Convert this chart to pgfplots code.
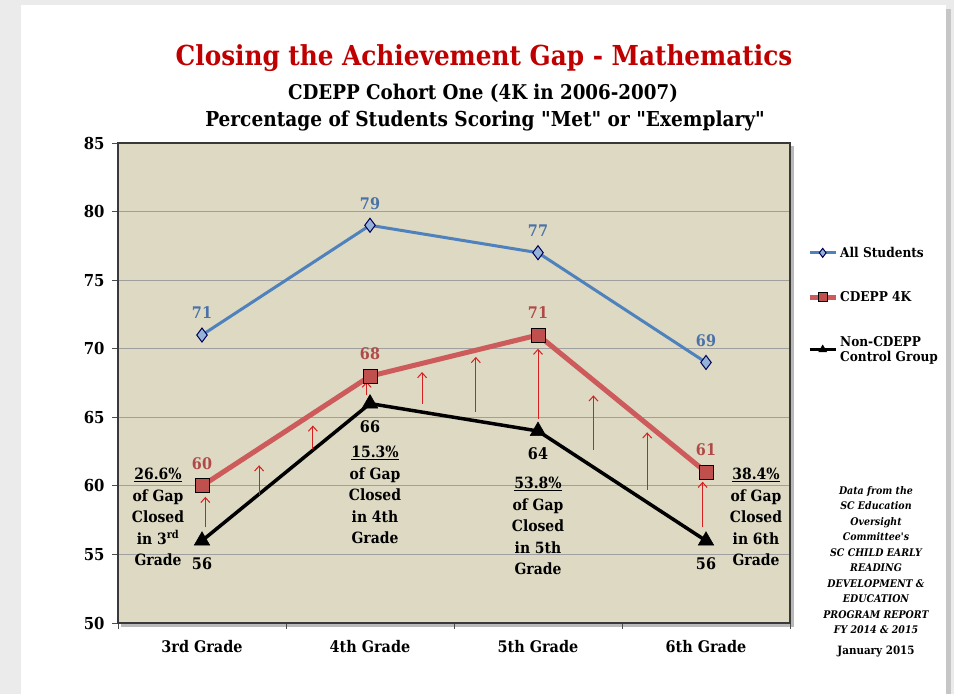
\documentclass[border=0pt]{standalone}
\usepackage{fontspec}
\setmainfont{DejaVu Serif Condensed}[Ligatures=TeXOff]
\usepackage{pgfplots}
\pgfplotsset{compat=1.18}
\usetikzlibrary{arrows.meta}

\definecolor{pagegray}{HTML}{EBEBEB}
\definecolor{bgtan}{HTML}{DDD9C3}
\definecolor{titlered}{HTML}{C00000}
\definecolor{allblue}{HTML}{4F81BD}
\definecolor{diafill}{HTML}{95B3D7}
\definecolor{cdline}{HTML}{CD5B5B}
\definecolor{cdfill}{HTML}{C0504D}
\definecolor{bluelab}{HTML}{4A72A8}
\definecolor{redlab}{HTML}{B04A48}
\definecolor{arrowred}{HTML}{D42020}

\newcommand{\gapfont}{\bfseries\fontsize{15.5}{21.5}\selectfont}

\begin{document}
\begin{tikzpicture}[x=1pt,y=1pt]
\useasboundingbox (0,0) rectangle (954,-694);
\fill[pagegray] (0,0) rectangle (954,-694);
\fill[gray!45] (946,-9) rectangle (951,-694);
\fill[white] (21,-5) rectangle (946,-694);
% plot area shadow
\fill[gray!55] (121,-146) rectangle (794,-627);

\begin{axis}[
  at={(118pt,-623pt)}, anchor=south west,
  scale only axis, width=672pt, height=480pt,
  xmin=-0.5, xmax=3.5, ymin=50, ymax=85,
  axis background/.style={fill=bgtan},
  axis line style={draw=gray!45!black, line width=1.4pt},
  /pgf/number format/assume math mode=true,
  ytick={50,55,...,85},
  ytick pos=left, xtick pos=bottom,
  tick align=outside,
  major tick length=6pt,
  tick style={draw=gray!60!black, line width=1pt},
  yticklabel style={font=\bfseries\fontsize{16.5}{16}\selectfont, xshift=-4pt},
  ymajorgrids, grid style={draw=gray!75, line width=1.2pt},
  xtick={-0.5,0.5,1.5,2.5,3.5}, xticklabels={,,,,},
  extra x ticks={0,1,2,3},
  extra x tick labels={3rd Grade,4th Grade,5th Grade,6th Grade},
  extra x tick style={grid=none, tick style={draw=none},
    xticklabel style={font=\bfseries\fontsize{16}{16}\selectfont, yshift=-8pt}},
  clip=false,
  legend style={at={(axis description cs:1,0.788)}, anchor=north west,
    xshift=17pt, draw=none, fill=none, inner sep=0pt,
    font=\bfseries\fontsize{13.5}{15}\selectfont,
    row sep=29pt, cells={anchor=west, align=left}},
  legend image code/.code={\draw[#1, mark repeat=2, mark phase=2, mark size=4.5pt]
    plot coordinates {(0pt,0pt)(13pt,0pt)(26pt,0pt)};},
]
\addplot[allblue, line width=3pt, mark=diamond*, mark size=7pt,
  mark options={fill=diafill, draw=blue!35!black, line width=1pt},
  nodes near coords,
  every node near coord/.append style={anchor=center, yshift=22pt,
    text=bluelab, font=\bfseries\fontsize{16}{16}\selectfont}]
  coordinates {(0,71) (1,79) (2,77) (3,69)};
\addlegendentry{All Students}

\addplot[cdline, line width=5pt, mark=square*, mark size=7pt,
  mark options={fill=cdfill, draw=black, line width=1pt},
  nodes near coords,
  every node near coord/.append style={anchor=center, yshift=22pt,
    text=redlab, font=\bfseries\fontsize{16}{16}\selectfont}]
  coordinates {(0,60) (1,68) (2,71) (3,61)};
\addlegendentry{CDEPP 4K}

\addplot[black, line width=3.5pt, mark=triangle*, mark size=9pt,
  mark options={fill=black, draw=black, line width=0.5pt},
  nodes near coords,
  every node near coord/.append style={anchor=center, yshift=-23pt,
    text=black, font=\bfseries\fontsize{16}{16}\selectfont}]
  coordinates {(0,56) (1,66) (2,64) (3,56)};
\addlegendentry{Non-CDEPP\\Control Group}

% red gap arrows
\pgfplotsset{gaparrow/.style={arrowred, line width=1pt, forget plot,
  -{Straight Barb[length=5pt, width=9pt]}}}
\addplot[gaparrow] coordinates {(0.02,57.0) (0.02,59.2)};
\addplot[gaparrow] coordinates {(0.34,59.3) (0.34,61.5)};
\addplot[gaparrow] coordinates {(0.66,62.7) (0.66,64.4)};
\addplot[gaparrow] coordinates {(0.98,66.6) (0.98,67.6)};
\addplot[gaparrow] coordinates {(1.31,66.0) (1.31,68.3)};
\addplot[gaparrow] coordinates {(1.63,65.4) (1.63,69.4)};
\addplot[gaparrow] coordinates {(2.00,64.9) (2.00,70.0)};
\addplot[gaparrow] coordinates {(2.33,62.6) (2.33,66.6)};
\addplot[gaparrow] coordinates {(2.65,59.7) (2.65,63.9)};
\addplot[gaparrow] coordinates {(2.98,57.0) (2.98,60.3)};
\end{axis}

% titles
\node[font=\bfseries\fontsize{27.5}{30}\selectfont, text=titlered] at (484,-58)
  {Closing the Achievement Gap - Mathematics};
\node[font=\bfseries\fontsize{20.3}{24}\selectfont] at (483,-93)
  {CDEPP Cohort One (4K in 2006-2007)};
\node[font=\bfseries\fontsize{20.6}{24}\selectfont] at (485,-121)
  {Percentage of Students Scoring "Met" or "Exemplary"};

% gap annotations
\node[align=center, font=\gapfont] at (158,-517)
  {\underline{26.6\%}\\of Gap\\Closed\\in 3\textsuperscript{rd}\\Grade};
\node[align=center, font=\gapfont] at (375,-495)
  {\underline{15.3\%}\\of Gap\\Closed\\in 4th\\Grade};
\node[align=center, font=\gapfont] at (538,-526)
  {\underline{53.8\%}\\of Gap\\Closed\\in 5th\\Grade};
\node[align=center, font=\gapfont] at (756,-517)
  {\underline{38.4\%}\\of Gap\\Closed\\in 6th\\Grade};

% source note
\node[align=center, font=\bfseries\itshape\fontsize{10.5}{15.5}\selectfont] at (876,-560)
  {Data from the\\SC Education\\Oversight\\Committee's\\SC CHILD EARLY\\READING\\DEVELOPMENT \&\\EDUCATION\\PROGRAM REPORT\\FY 2014 \& 2015};
\node[font=\bfseries\fontsize{11.5}{14}\selectfont] at (876,-652) {January 2015};
\end{tikzpicture}
\end{document}
